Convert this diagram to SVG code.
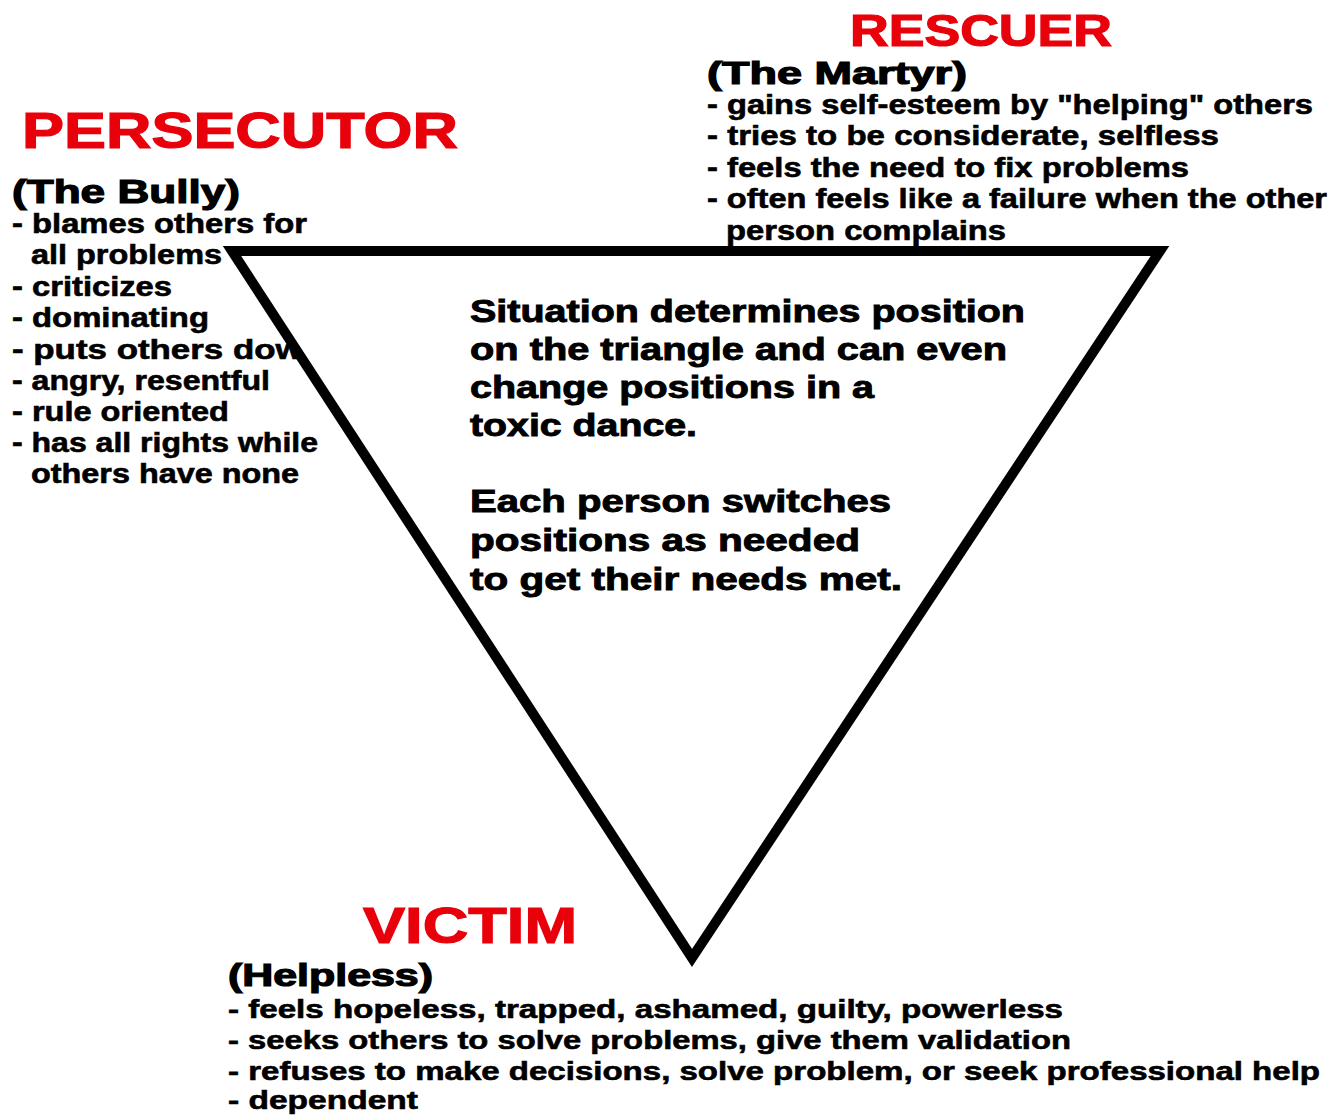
<svg xmlns="http://www.w3.org/2000/svg" width="1333" height="1115" viewBox="0 0 1333 1115">
<style>
text{font-family:"Liberation Sans",Arial,sans-serif;font-weight:bold;fill:#000}
.title{fill:#e8000b;stroke:#e8000b;stroke-width:1.2}
.sub{stroke:#000;stroke-width:1.2}
.item{stroke:#000;stroke-width:0.6}
.mid{stroke:#000;stroke-width:0.9}
</style>
<rect width="1333" height="1115" fill="#fff"/>
<g id="persecutor">
<text class="title" x="22" y="148" font-size="50" textLength="436" lengthAdjust="spacingAndGlyphs">PERSECUTOR</text>
<text class="sub" x="12" y="203" font-size="33" textLength="228" lengthAdjust="spacingAndGlyphs">(The Bully)</text>
<g font-size="27">
<text class="item" x="12" y="233" textLength="295" lengthAdjust="spacingAndGlyphs">- blames others for</text>
<text class="item" x="31" y="264" textLength="191" lengthAdjust="spacingAndGlyphs">all problems</text>
<text class="item" x="12" y="296" textLength="160" lengthAdjust="spacingAndGlyphs">- criticizes</text>
<text class="item" x="12" y="327" textLength="197" lengthAdjust="spacingAndGlyphs">- dominating</text>
<text class="item" x="12" y="359" textLength="312" lengthAdjust="spacingAndGlyphs">- puts others down</text>
<text class="item" x="12" y="390" textLength="258" lengthAdjust="spacingAndGlyphs">- angry, resentful</text>
<text class="item" x="12" y="421" textLength="217" lengthAdjust="spacingAndGlyphs">- rule oriented</text>
<text class="item" x="12" y="452" textLength="306" lengthAdjust="spacingAndGlyphs">- has all rights while</text>
<text class="item" x="31" y="483" textLength="268" lengthAdjust="spacingAndGlyphs">others have none</text>
</g>
</g>
<g id="triangle">
<polygon points="232,251 1160,251 692,958" fill="#fff" stroke="#000" stroke-width="10" stroke-linejoin="miter"/>
</g>
<g id="center-note" font-size="31">
<text class="mid" x="470" y="322" textLength="555" lengthAdjust="spacingAndGlyphs">Situation determines position</text>
<text class="mid" x="470" y="360" textLength="537" lengthAdjust="spacingAndGlyphs">on the triangle and can even</text>
<text class="mid" x="470" y="398" textLength="404" lengthAdjust="spacingAndGlyphs">change positions in a</text>
<text class="mid" x="470" y="436" textLength="227" lengthAdjust="spacingAndGlyphs">toxic dance.</text>
<text class="mid" x="470" y="512" textLength="421" lengthAdjust="spacingAndGlyphs">Each person switches</text>
<text class="mid" x="470" y="551" textLength="390" lengthAdjust="spacingAndGlyphs">positions as needed</text>
<text class="mid" x="470" y="590" textLength="432" lengthAdjust="spacingAndGlyphs">to get their needs met.</text>
</g>
<g id="rescuer">
<text class="title" x="850" y="46" font-size="44" textLength="262" lengthAdjust="spacingAndGlyphs">RESCUER</text>
<text class="sub" x="707" y="84" font-size="31" textLength="260" lengthAdjust="spacingAndGlyphs">(The Martyr)</text>
<g font-size="27">
<text class="item" x="707" y="114" textLength="606" lengthAdjust="spacingAndGlyphs">- gains self-esteem by "helping" others</text>
<text class="item" x="707" y="145" textLength="512" lengthAdjust="spacingAndGlyphs">- tries to be considerate, selfless</text>
<text class="item" x="707" y="177" textLength="482" lengthAdjust="spacingAndGlyphs">- feels the need to fix problems</text>
<text class="item" x="707" y="208" textLength="620" lengthAdjust="spacingAndGlyphs">- often feels like a failure when the other</text>
<text class="item" x="726" y="240" textLength="280" lengthAdjust="spacingAndGlyphs">person complains</text>
</g>
</g>
<g id="victim">
<text class="title" x="363" y="943" font-size="50" textLength="214" lengthAdjust="spacingAndGlyphs">VICTIM</text>
<text class="sub" x="228" y="986" font-size="31" textLength="205" lengthAdjust="spacingAndGlyphs">(Helpless)</text>
<g font-size="26">
<text class="item" x="228" y="1018" textLength="835" lengthAdjust="spacingAndGlyphs">- feels hopeless, trapped, ashamed, guilty, powerless</text>
<text class="item" x="228" y="1049" textLength="843" lengthAdjust="spacingAndGlyphs">- seeks others to solve problems, give them validation</text>
<text class="item" x="228" y="1080" textLength="1092" lengthAdjust="spacingAndGlyphs">- refuses to make decisions, solve problem, or seek professional help</text>
<text class="item" x="228" y="1109" textLength="190" lengthAdjust="spacingAndGlyphs">- dependent</text>
</g>
</g>
</svg>
